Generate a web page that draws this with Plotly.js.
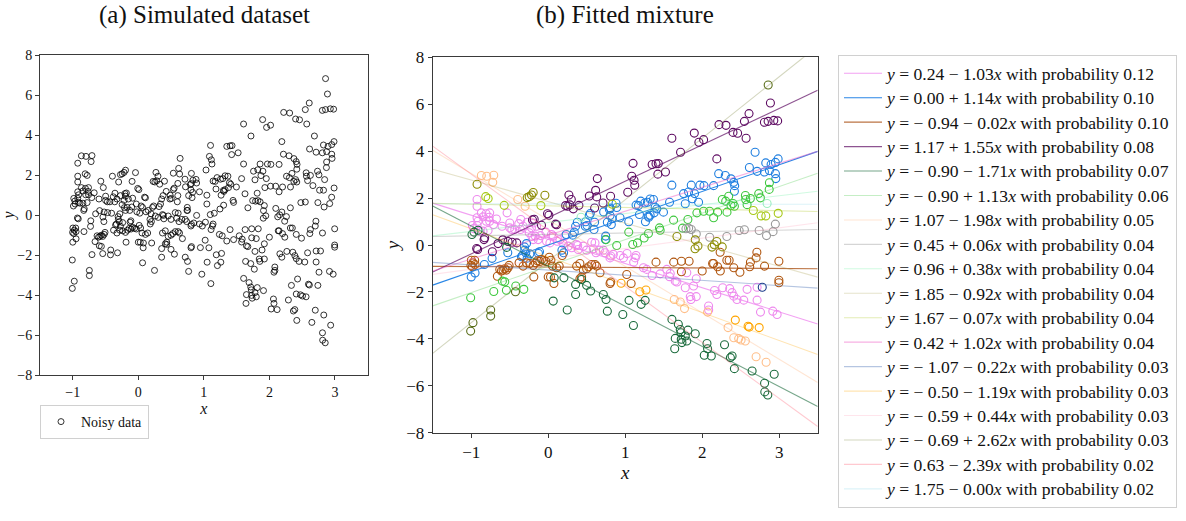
<!DOCTYPE html>
<html>
<head>
<meta charset="utf-8">
<script src="https://cdn.plot.ly/plotly-3.0.1.min.js"></script>
<style>html,body{margin:0;padding:0;background:#fff}#chart{width:1186px;height:521px}</style>
</head>
<body>
<div id="chart"></div>
<script>
// ---- fitted mixture components (from legend) ----
var intercepts = [0.24, 0.00, -0.94, 1.17, -0.90, -0.90, 1.07, 0.45, 0.96, 1.85, 1.67, 0.42, -1.07, -0.50, -0.59, -0.69, 0.63, 1.75];
var slopes     = [-1.03, 1.14, -0.02, 1.55, -1.71, 1.13, -1.98, 0.06, 0.38, -0.92, -0.07, 1.02, -0.22, -1.19, 0.44, 2.62, -2.39, -0.004];
var probs      = [0.12, 0.10, 0.10, 0.08, 0.07, 0.06, 0.05, 0.04, 0.04, 0.04, 0.04, 0.04, 0.03, 0.03, 0.03, 0.03, 0.02, 0.02];

// ---- data points per component ----
var violetX = [-0.924,-0.924,-0.868,-0.807,-0.846,-0.76,-0.768,-0.924,-0.911,-0.803,-0.76,-0.985,-0.924,-0.968,-0.89,-0.781,-0.846,-0.673,-0.534,-0.499,-0.499,-0.434,-0.382,-0.356,-0.326,-0.36,-0.273,-0.195,-0.152,-0.217,-0.247,-0.169,-0.13,-0.195,-0.03,0.043,0.065,-0.022,0.022,0.117,0.152,0.195,0.217,0.26,0.304,0.369,0.39,0.456,0.499,0.564,0.608,0.664,0.738,0.812,0.977,0.586,0.621,0.716,0.803,0.846,0.933,-0.60,-0.71,-0.473,-0.212,-0.10,0.383,1.024,1.11,1.13,1.28,1.35,1.54,1.585,1.576,1.65,1.80,1.78,1.845,1.923,1.854,1.923,2.083,2.16,2.19,2.266,2.357,2.388,2.41,2.54,2.583,2.713,2.713,2.757,2.917,2.973,1.141,1.237,1.454,1.671,2.084,2.452,1.888];
var violetY = [1.94,1.65,1.37,1.33,1.20,1.37,1.18,1.16,1.01,1.01,1.01,0.83,0.83,0.70,0.59,0.62,0.59,1.11,1.37,0.94,0.73,0.66,0.91,1.09,0.80,0.66,0.97,0.94,0.80,0.73,0.52,0.38,0.23,0.23,0.55,0.45,0.38,0.16,0.09,0.16,0.23,0.06,0.38,-0.05,-0.12,0.02,-0.19,-0.05,-0.22,0.12,0.09,-0.22,-0.33,-0.47,-0.55,-0.16,-0.33,-0.22,-0.55,-0.40,-0.45,0.80,0.87,0.66,0.37,0.40,-0.02,-0.36,-0.73,-0.55,-1.04,-1.30,-1.04,-1.21,-1.35,-1.54,-1.18,-1.82,-2.20,-2.20,-2.32,-1.44,-2.60,-1.94,-2.11,-1.82,-1.86,-2.03,-2.18,-2.35,-1.89,-2.35,-1.80,-2.86,-2.82,-2.96,-0.45,-0.97,-1.23,-1.58,-2.77,-2.32,-1.75];

var blueX = [2.687,2.613,2.713,2.808,2.873,2.825,2.895,2.951,2.986,2.951,2.956,2.214,2.30,2.374,2.409,2.422,2.418,2.148,1.97,2.023,1.858,1.823,1.901,1.953,1.871,1.758,1.78,1.606,1.576,1.497,1.41,1.389,1.376,1.306,1.324,1.367,1.254,1.289,1.324,1.202,1.172,1.141,1.263,1.298,1.185,1.046,0.933,0.89,0.881,0.807,0.794,0.803,0.829,0.768,0.82,0.747,0.743,0.72,0.595,0.603,0.486,0.504,0.482,0.534,0.547,0.378,0.356,0.339,0.317,0.234,0.178,0.2,-0.304,-1.0,-0.95,-0.729,-0.829,-0.525,-0.282,-0.308,-0.334,-0.291,-0.347,-0.273,-0.239,-0.113,-0.126];
var blueY = [3.95,3.30,3.14,3.11,3.17,3.50,3.43,3.52,3.67,3.04,2.83,3.04,2.96,2.82,2.67,2.53,2.29,2.53,2.55,2.53,2.55,2.26,2.19,1.82,1.97,2.19,1.76,2.55,1.82,1.40,1.54,1.61,1.37,1.18,1.27,1.94,1.79,1.82,1.96,1.87,1.68,1.70,0.99,1.23,1.30,0.99,1.16,1.60,1.78,1.57,1.52,1.26,1.13,0.97,0.87,0.38,0.23,1.41,0.66,0.97,0.99,0.83,0.80,1.27,1.34,0.97,0.80,0.55,0.42,0.45,-0.22,-0.33,-0.22,-1.36,-1.19,-0.57,-0.83,-0.33,0.06,-0.08,-0.45,-0.33,-0.50,-0.56,-0.38,-0.29,-0.36];

var brownX = [-0.998,-0.977,-0.955,-0.985,-0.95,-1.003,-0.629,-0.608,-0.586,-0.564,-0.543,-0.521,-0.508,-0.66,-0.378,-0.326,-0.282,-0.239,-0.195,-0.165,-0.139,-0.109,-0.087,-0.056,-0.03,0.013,0.035,0.056,-0.187,0.0,0.03,0.074,0.182,0.143,0.109,0.369,0.412,0.434,0.412,0.456,0.499,0.525,0.564,0.629,0.673,0.608,0.812,0.803,1.077,1.02,1.40,1.63,1.73,1.83,1.73,2.0,2.135,2.148,2.2,2.235,2.233,2.32,2.35,2.41,2.49,2.626,2.617,2.70,2.71,2.81,2.996,2.996,2.996];
var brownY = [-0.65,-0.76,-0.65,-0.93,-0.83,-0.87,-1.04,-1.11,-1.07,-1.01,-1.07,-0.97,-0.87,-1.33,-0.76,-0.9,-0.76,-0.79,-0.87,-0.76,-0.67,-0.70,-0.62,-0.66,-0.70,-0.52,-0.65,-0.90,-1.36,-1.36,-1.36,-1.64,-0.45,-0.9,-0.97,-0.9,-0.79,-1.36,-1.44,-1.07,-1.01,-0.93,-0.83,-0.9,-1.18,-0.83,-1.58,-1.64,-1.64,-1.26,-0.73,-0.73,-0.69,-0.69,-1.14,-1.11,-0.79,-0.79,-0.93,-1.11,-0.31,-0.65,-0.65,-0.97,-1.16,-0.73,-0.93,-0.55,-0.31,-0.90,-0.69,-1.50,-1.61];

var purpleX = [2.886,2.856,2.808,2.93,2.98,2.608,2.548,2.40,2.46,2.57,2.218,2.309,1.897,1.957,2.018,1.606,1.719,1.523,1.424,1.35,1.40,1.43,1.102,1.085,1.115,1.124,1.033,0.81,0.638,0.534,0.616,0.63,0.712,0.603,0.399,0.269,0.3,0.226,0.252,0.282,0.326,-0.009,0.009,-0.182,-0.204,0.095,0.109,-0.087,-0.651,-0.59,-0.521,-0.469,-0.408,-0.825,-0.833,-0.929,-0.916,-0.725,2.19];
var purpleY = [6.05,5.27,5.23,5.31,5.29,5.60,5.27,4.80,4.76,4.55,5.13,5.10,4.77,4.38,4.49,4.55,3.95,3.11,3.02,3.43,3.46,3.47,3.48,2.93,2.76,2.55,2.25,2.08,2.83,2.09,2.33,2.05,1.79,1.58,1.69,2.13,1.94,1.68,1.65,1.71,1.54,1.33,1.27,1.10,1.07,0.89,0.86,0.84,0.06,0.22,0.15,0.12,0.09,0.31,0.23,-0.15,-0.19,-0.29,3.67];

var dgreenX = [-0.99,-0.964,-0.911,-0.54,0.078,0.204,0.065,0.247,0.356,0.356,0.434,0.499,0.551,0.716,0.751,0.768,0.969,1.107,1.05,1.207,1.259,1.607,1.69,1.715,1.724,1.728,1.78,1.737,1.80,1.815,1.91,1.65,1.643,2.062,2.07,2.027,2.118,2.29,2.366,2.388,2.418,2.648,2.81,2.813,2.852,2.935];
var dgreenY = [0.45,0.55,0.63,-0.10,-1.40,-1.40,-2.39,-2.77,-1.68,-2.11,-1.47,-1.72,-1.96,-2.11,-2.32,-2.82,-2.96,-3.43,-2.36,-2.53,-2.36,-3.17,-3.38,-3.60,-3.74,-4.02,-3.88,-4.16,-4.09,-3.63,-3.78,-3.98,-4.42,-4.20,-4.42,-4.70,-4.73,-4.25,-4.80,-4.73,-5.27,-5.37,-5.89,-6.26,-6.39,-5.51];

var lgreenX = [-1.007,-0.707,-0.595,-0.564,-0.543,-0.421,-0.317,0.751,0.89,1.046,1.159,1.098,1.246,1.302,1.445,1.454,1.628,1.814,1.931,2.018,2.096,2.148,2.201,2.261,2.305,2.322,2.344,2.374,2.40,2.418,2.561,2.565,2.583,2.626,2.734,2.756,2.87,2.873,1.745];
var lgreenY = [-2.25,-1.98,-1.54,-1.57,-1.93,-1.75,-1.89,0.23,-0.02,0.55,0.09,0.02,0.30,0.49,0.73,0.63,1.06,1.09,1.37,1.44,1.44,1.16,1.40,1.94,1.87,1.40,2.08,1.68,1.77,1.65,2.11,1.94,1.72,1.98,2.19,2.01,2.37,2.65,0.72];

var peachX = [-0.868,-0.798,-0.707,-0.72,-0.395,-0.3,1.637,1.715,1.77,2.07,2.336,2.41,2.474,2.505,2.56,2.70,2.83];
var peachY = [2.96,2.93,2.97,2.67,1.94,1.65,-2.32,-2.43,-2.71,-2.86,-3.52,-3.95,-3.99,-4.05,-4.09,-4.76,-5.0];

var grayX = [1.789,1.824,1.858,1.923,2.097,2.32,2.48,2.548,2.74,2.835,2.92,2.95];
var grayY = [0.69,0.72,0.66,0.47,0.33,0.36,0.62,0.65,0.62,0.40,0.57,0.89];

var mintX = [0.426,2.843];
var mintY = [1.18,1.77];

var oliveX = [-0.924,-0.273,-0.247,-0.217,-0.195,-0.043,1.672,1.91,1.945,1.907,2.127,2.157,2.19,2.26];
var oliveY = [2.59,2.02,2.06,2.13,2.24,2.12,0.36,0.22,-0.04,-0.16,-0.09,0.01,0.15,-0.08];

var ygreenX = [-0.811,-0.78,-0.572,-0.095,0.833,2.664,2.766,2.826,2.987];
var ygreenY = [2.06,1.98,1.69,1.68,1.74,1.47,1.24,1.24,1.35];

var navyX = [2.78];
var navyY = [-1.80];

var orangeX = [0.947,1.19,1.27,2.43,2.596,2.61,2.74];
var orangeY = [-1.63,-1.99,-1.92,-3.2,-3.46,-3.5,-3.52];

var dkoliveX = [-1.007,-0.977,-0.747,-0.747,-0.425,2.857];
var dkoliveY = [-3.67,-3.31,-2.77,-3.03,-1.99,6.82];

var xTicks = [-1, 0, 1, 2, 3];
var yTicks = [-8, -6, -4, -2, 0, 2, 4, 6, 8];
var xRange = [-1.5, 3.5];
var yRange = [-8, 8];

// ---- styles ----
var lineColors = ['rgba(238,130,238,0.75)','rgba(30,127,229,0.95)','rgba(170,80,20,0.8)','rgba(94,11,98,0.7)','rgba(26,107,60,0.6)',
  'rgba(62,200,62,0.3)','rgba(255,170,110,0.3)','rgba(150,150,150,0.4)','rgba(120,240,170,0.35)','rgba(170,160,80,0.3)',
  'rgba(175,200,40,0.35)','rgba(240,100,200,0.5)','rgba(70,110,180,0.4)','rgba(255,165,0,0.3)','rgba(255,150,180,0.25)',
  'rgba(110,120,40,0.3)','rgba(255,100,120,0.35)','rgba(120,210,230,0.25)'];
var pointSets = [
  [violetX, violetY, '#ee8aee'], [blueX, blueY, '#1f7fe0'], [brownX, brownY, '#b0560f'], [purpleX, purpleY, '#5e0b62'],
  [dgreenX, dgreenY, '#1a6b3c'], [lgreenX, lgreenY, '#3ec83e'], [peachX, peachY, '#ffbf8a'], [grayX, grayY, '#999999'],
  [mintX, mintY, '#9ef0c0'], [oliveX, oliveY, '#8b8b00'], [ygreenX, ygreenY, '#a6c814'], [navyX, navyY, '#1a3a8a'],
  [orangeX, orangeY, '#ffa500'], [dkoliveX, dkoliveY, '#5a6e1a']
];

var serif = 'Liberation Serif, Times New Roman, serif';
var traces = [];

// left: all points in black
var allX = [], allY = [];
pointSets.forEach(function (s) { allX = allX.concat(s[0]); allY = allY.concat(s[1]); });
traces.push({
  type: 'scatter', mode: 'markers', x: allX, y: allY, xaxis: 'x', yaxis: 'y',
  name: 'Noisy data', legend: 'legend2', showlegend: true,
  marker: {symbol: 'circle-open', size: 6, color: '#000', line: {width: 0.8}}
});

// right: points by component
pointSets.forEach(function (s) {
  traces.push({
    type: 'scatter', mode: 'markers', x: s[0], y: s[1], xaxis: 'x2', yaxis: 'y2', showlegend: false,
    marker: {symbol: 'circle-open', size: 8, color: s[2], line: {width: 1.1}}, hoverinfo: 'x+y'
  });
});

function fmt(v) { return v.toFixed(2); }
for (var i = 0; i < intercepts.length; i++) {
  var a = intercepts[i], b = slopes[i];
  var aTxt = (a < 0 ? '− ' : '') + fmt(Math.abs(a));
  var bTxt = (b < 0 ? ' − ' : ' + ') + fmt(Math.abs(b));
  var label = '<span style="font-size:17.6px"><i>y</i> = ' + aTxt + bTxt + '<i>x</i> with probability ' + fmt(probs[i]) + '</span>';
  traces.push({
    type: 'scatter', mode: 'lines', xaxis: 'x2', yaxis: 'y2',
    x: [xRange[0], xRange[1]], y: [a + b * xRange[0], a + b * xRange[1]],
    name: label, legend: 'legend', showlegend: true,
    line: {color: lineColors[i], width: 1.1}
  });
}

var W = 1186, H = 521;
function axisCommon(fs) {
  return {
    showgrid: false, zeroline: false, showline: true, mirror: true, linecolor: '#3a3a3a', linewidth: 1,
    ticks: 'outside', ticklen: 4, tickwidth: 1, tickcolor: '#3a3a3a',
    tickfont: {family: serif, size: fs, color: '#111'}, automargin: false
  };
}
var xa = Object.assign(axisCommon(14), {domain: [40/W, 367.7/W], range: xRange, tickvals: xTicks, anchor: 'y',
  title: {text: '<i>x</i>', font: {family: serif, size: 16, color: '#111'}, standoff: 0}});
var ya = Object.assign(axisCommon(14), {domain: [1 - 375/H, 1 - 55/H], range: yRange, tickvals: yTicks, anchor: 'x',
  title: {text: '<i>y</i>', font: {family: serif, size: 16, color: '#111'}, standoff: 2}});
var xa2 = Object.assign(axisCommon(17), {domain: [432.7/W, 817.7/W], range: xRange, tickvals: xTicks, anchor: 'y2',
  title: {text: '<i>x</i>', font: {family: serif, size: 19, color: '#111'}, standoff: 0}});
var ya2 = Object.assign(axisCommon(17), {domain: [1 - 432.7/H, 1 - 57.3/H], range: yRange, tickvals: yTicks, anchor: 'x2',
  title: {text: '<i>y</i>', font: {family: serif, size: 19, color: '#111'}, standoff: 1}});

var layout = {
  width: W, height: H, margin: {l: 0, r: 0, t: 0, b: 0},
  paper_bgcolor: '#fff', plot_bgcolor: '#fff',
  xaxis: xa, yaxis: ya, xaxis2: xa2, yaxis2: ya2,
  font: {family: serif, color: '#111'},
  legend: {x: 838/W, y: 1 - 55/H, xanchor: 'left', yanchor: 'top', bgcolor: '#fff', itemwidth: 38,
    bordercolor: '#d0d0d0', borderwidth: 1, font: {family: serif, size: 16.5, color: '#111'}, tracegroupgap: 0},
  legend2: {x: 40/W, y: 1 - 405/H, xanchor: 'left', yanchor: 'top', bgcolor: '#fff',
    bordercolor: '#d0d0d0', borderwidth: 1, font: {family: serif, size: 14, color: '#111'}},
  annotations: [
    {text: '(a) Simulated dataset', xref: 'paper', yref: 'paper', x: 204/W, y: 1 - 15/H, xanchor: 'center', yanchor: 'middle',
     showarrow: false, font: {family: serif, size: 25, color: '#111'}},
    {text: '(b) Fitted mixture', xref: 'paper', yref: 'paper', x: 625/W, y: 1 - 15/H, xanchor: 'center', yanchor: 'middle',
     showarrow: false, font: {family: serif, size: 25, color: '#111'}}
  ],
  showlegend: true
};

Plotly.newPlot('chart', traces, layout, {displayModeBar: false, staticPlot: true});
</script>
</body>
</html>
